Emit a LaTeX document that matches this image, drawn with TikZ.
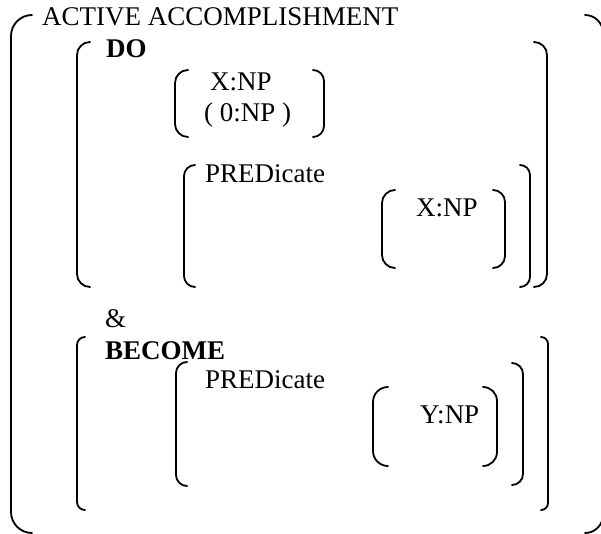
\documentclass[tikz,border=0pt]{standalone}
\usepackage{fontspec}
\setmainfont{Liberation Serif}

% Bracket helpers: vertical x, top y, bottom y, tick length
\newcommand\leftbrk[4]{\draw[brk, rounded corners=#4pt] ({#1+#4},#2) -- (#1,#2) -- (#1,#3) -- ({#1+#4},#3);}
\newcommand\rightbrk[4]{\draw[brk, rounded corners=#4pt] ({#1-#4},#2) -- (#1,#2) -- (#1,#3) -- ({#1-#4},#3);}

\tikzset{
  brk/.style={line width=1.8pt, line cap=round},
  lbl/.style={anchor=base west, inner sep=0pt, font=\fontsize{27}{30}\selectfont},
  head/.style={lbl, font=\fontsize{27}{30}\selectfont\bfseries},
}

\begin{document}
\begin{tikzpicture}[x=1pt, y=-1pt]
  \useasboundingbox (0,0) rectangle (601,534);

  % outermost structure
  \leftbrk{11}{15}{533}{21}
  \rightbrk{603}{15}{533}{18}
  \node[lbl] (title) at (42,26) {ACTIVE ACCOMPLISHMENT};

  % DO part
  \leftbrk{77}{42}{287}{13}
  \rightbrk{547}{42}{287}{13}
  \node[head] (do) at (106,58) {DO};

  \leftbrk{175}{70}{137}{13}
  \rightbrk{324}{70}{137}{11}
  \node[lbl] (actor) at (210,91) {X:NP};
  \node[lbl] (effector) at (204,122) {( 0:NP )};

  \leftbrk{184}{165}{287}{11}
  \rightbrk{530}{165}{287}{10}
  \node[lbl] (pred1) at (205,183) {PREDicate};

  \leftbrk{382}{190}{268}{13}
  \rightbrk{505}{190}{268}{12}
  \node[lbl] (arg1) at (416,217) {X:NP};

  \node[lbl] (amp) at (105,327) {\&};

  % BECOME part
  \leftbrk{77}{337}{510}{8}
  \rightbrk{548}{337}{510}{7}
  \node[head] (become) at (105,359) {BECOME};

  \leftbrk{176}{362}{486}{11}
  \rightbrk{523}{363}{485}{11}
  \node[lbl] (pred2) at (205,388) {PREDicate};

  \leftbrk{373}{387}{466}{15}
  \rightbrk{497}{387}{466}{14}
  \node[lbl] (arg2) at (420,423) {Y:NP};
\end{tikzpicture}
\end{document}
